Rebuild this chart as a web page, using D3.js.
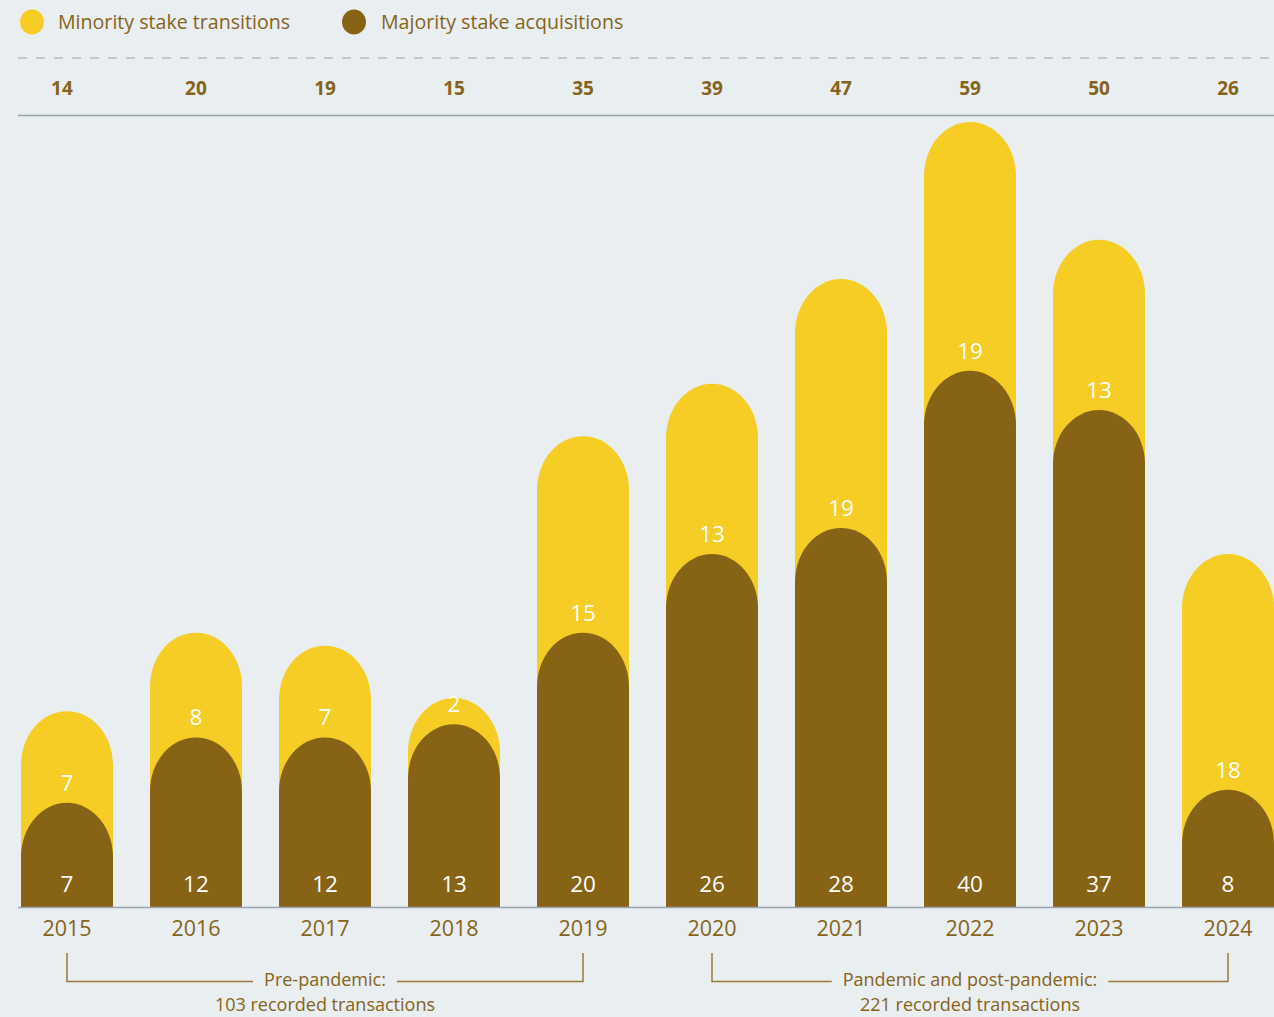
<!DOCTYPE html>
<html><head><meta charset="utf-8">
<script src="https://cdn.jsdelivr.net/npm/d3@7"></script>
<style>
html,body{margin:0;padding:0;background:#e9eef1;}
svg{display:block;font-family:"Open Sans","Noto Sans",sans-serif;}
</style></head>
<body><svg id="c" width="1274" height="1017"></svg>
<script>
const years = ["2015","2016","2017","2018","2019","2020","2021","2022","2023","2024"];
const majority = [7,12,12,13,20,26,28,40,37,8];
const minority = [7,8,7,2,15,13,19,19,13,18];
const totals = [14,20,19,15,35,39,47,59,50,26];
const seriesNames = ["Minority stake transitions","Majority stake acquisitions"];
const periods = [
  {from:"2015", to:"2019", line1:"Pre-pandemic:", line2:"103 recorded transactions"},
  {from:"2020", to:"2024", line1:"Pandemic and post-pandemic:", line2:"221 recorded transactions"}
];

const YELLOW="#f6cd24", BROWN="#866315", TEXT="#86631a", GRID="#9aa3ae";
const svg = d3.select("#c");
svg.append("rect").attr("width",1274).attr("height",1017).attr("fill","#e9eef1");

const x = d3.scaleBand().domain(years).range([21,1274]).paddingInner(0.287).paddingOuter(0);
const y = d3.scaleLinear().domain([0,59]).range([894.5,122]);
const base = 907;
const bw = x.bandwidth();
const ry = 54;

function capPath(x0, w, yTop, yBot){
  const rx = w/2;
  return `M${x0},${yBot}L${x0},${yTop+ry}A${rx},${ry} 0 0 1 ${x0+w},${yTop+ry}L${x0+w},${yBot}Z`;
}

// legend
const leg = [{name:seriesNames[0], c:YELLOW, cx:32, tx:58},{name:seriesNames[1], c:BROWN, cx:354, tx:381}];
leg.forEach(l=>{
  svg.append("ellipse").attr("cx",l.cx).attr("cy",22).attr("rx",12).attr("ry",12.5).attr("fill",l.c);
  svg.append("text").attr("x",l.tx).attr("y",29).attr("fill",TEXT).attr("font-size",19.6).text(l.name);
});

// dashed line & solid line
svg.append("line").attr("x1",18).attr("x2",1274).attr("y1",58).attr("y2",58)
  .attr("stroke",GRID).attr("stroke-width",1.2).attr("stroke-dasharray","9,9");
svg.append("line").attr("x1",18).attr("x2",1274).attr("y1",115.5).attr("y2",115.5)
  .attr("stroke",GRID).attr("stroke-width",1.5);

// totals
svg.selectAll("text.tot").data(years).join("text").attr("class","tot")
  .attr("x",d=>x(d)+bw/2 - (d==="2015"?5:0)).attr("y",95).attr("text-anchor","middle")
  .attr("fill",TEXT).attr("font-weight","bold").attr("font-size",19)
  .text((d,i)=>totals[i]);

// bars
const g = svg.append("g");
g.selectAll("path.min").data(years).join("path").attr("class","min")
  .attr("fill",YELLOW)
  .attr("d",(d,i)=>capPath(x(d), bw, y(majority[i]+minority[i]), base));
g.selectAll("path.maj").data(years).join("path").attr("class","maj")
  .attr("fill",BROWN)
  .attr("d",(d,i)=>capPath(x(d), bw, y(majority[i]), base));

// labels
g.selectAll("text.minl").data(years).join("text").attr("class","minl")
  .attr("x",d=>x(d)+bw/2).attr("y",(d,i)=>y(majority[i])-12)
  .attr("text-anchor","middle").attr("fill","#fff").attr("font-size",22.5)
  .text((d,i)=>minority[i]);
g.selectAll("text.majl").data(years).join("text").attr("class","majl")
  .attr("x",d=>x(d)+bw/2).attr("y",892)
  .attr("text-anchor","middle").attr("fill","#fff").attr("font-size",22.5)
  .text((d,i)=>majority[i]);

// baseline
svg.append("line").attr("x1",18).attr("x2",1274).attr("y1",base+0.5).attr("y2",base+0.5)
  .attr("stroke",GRID).attr("stroke-width",1.5);

// year labels
svg.selectAll("text.yr").data(years).join("text").attr("class","yr")
  .attr("x",d=>x(d)+bw/2).attr("y",936).attr("text-anchor","middle")
  .attr("fill",TEXT).attr("font-size",21.5).text(d=>d);

// period brackets
periods.forEach(p=>{
  const x1 = x(p.from)+bw/2, x2 = x(p.to)+bw/2, cx=(x1+x2)/2;
  const t1 = svg.append("text").attr("x",cx).attr("y",986).attr("text-anchor","middle")
    .attr("fill",TEXT).attr("font-size",18).text(p.line1);
  svg.append("text").attr("x",cx).attr("y",1011).attr("text-anchor","middle")
    .attr("fill",TEXT).attr("font-size",18).text(p.line2);
  const tw = t1.node().getComputedTextLength();
  const gap = tw/2 + 11;
  const path = `M${x1},953V981.5H${cx-gap}M${cx+gap},981.5H${x2}V953`;
  svg.append("path").attr("d",path).attr("fill","none").attr("stroke","#9a7a3a").attr("stroke-width",1.5);
});
</script></body></html>
